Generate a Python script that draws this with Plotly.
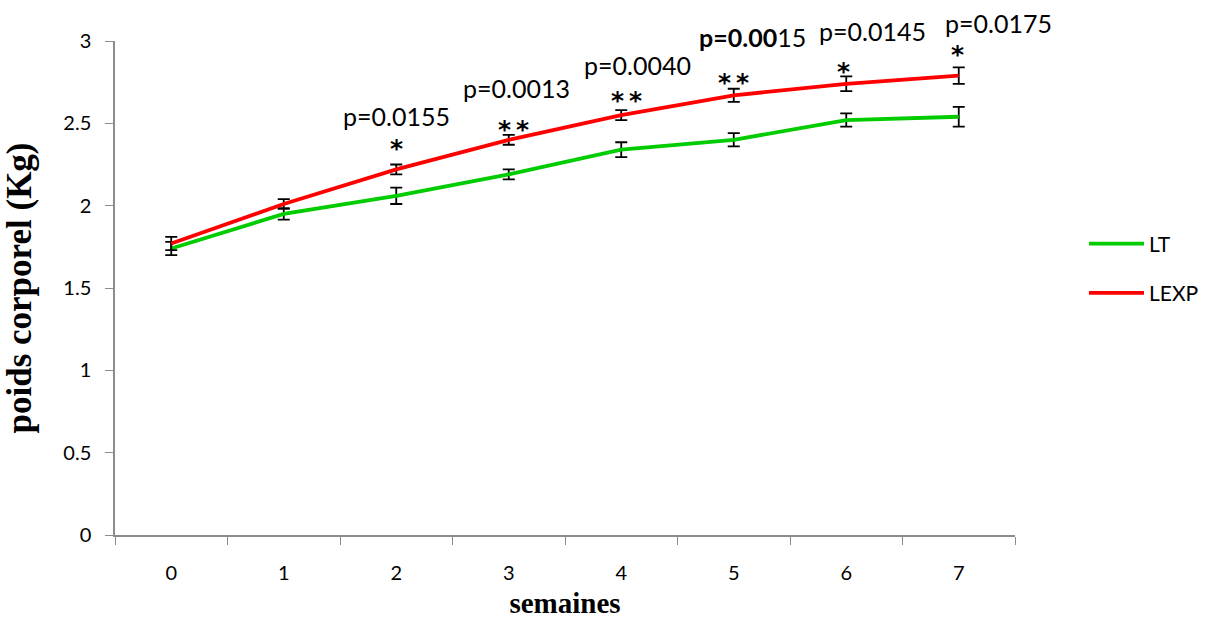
import plotly.graph_objects as go

# Weekly body weight (kg) of the two groups, with error bars
weeks = ["0", "1", "2", "3", "4", "5", "6", "7"]
lt_mean = [1.74, 1.95, 2.06, 2.19, 2.34, 2.40, 2.52, 2.54]
lt_err = [0.04, 0.035, 0.05, 0.03, 0.045, 0.04, 0.04, 0.06]
lexp_mean = [1.77, 2.01, 2.22, 2.40, 2.55, 2.67, 2.74, 2.79]
lexp_err = [0.04, 0.03, 0.03, 0.03, 0.03, 0.04, 0.045, 0.05]

# Significance marks per week (weeks 2..7)
sig_weeks = ["2", "3", "4", "5", "6", "7"]
sig_stars = ["*", "*\u2009*", "*\u2009*", "*\u2009*", "*", "*"]
sig_pvals = ["p=0.0155", "p=0.0013", "p=0.0040", "<b>p=0.00</b>15", "p=0.0145", "p=0.0175"]
# label offsets in pixels relative to the top of each LEXP error bar
star_dx = [0, 5, 5, 0, -3, -1]
star_dy = [24, 13, 18, 14, 13, 21]
pval_dx = [0, 8, 16, 19, 26, 40]
pval_dy = [49, 47, 45, 52, 45, 44]

label_font = "Lato, 'Open Sans', sans-serif"
star_font = "'DejaVu Sans', sans-serif"
serif_font = "'Liberation Serif', 'Times New Roman', serif"

fig = go.Figure()

fig.add_trace(go.Scatter(
    x=weeks, y=lt_mean, name="LT", mode="lines",
    line=dict(color="#00CC00", width=3.8),
    error_y=dict(type="data", array=lt_err, color="black", thickness=1.8, width=6),
    legendgroup="a",
))
fig.add_trace(go.Scatter(
    x=weeks, y=lexp_mean, name="LEXP", mode="lines",
    line=dict(color="#FF0000", width=3.8),
    error_y=dict(type="data", array=lexp_err, color="black", thickness=1.8, width=6),
    legendgroup="b",
))

idx = {w: i for i, w in enumerate(weeks)}
for w, s, p, sdx, sdy, pdx, pdy in zip(sig_weeks, sig_stars, sig_pvals,
                                       star_dx, star_dy, pval_dx, pval_dy):
    top = lexp_mean[idx[w]] + lexp_err[idx[w]]
    fig.add_annotation(
        x=w, y=top, text="<b>" + s + "</b>", showarrow=False,
        xshift=sdx, yshift=sdy - 8, yanchor="middle",
        font=dict(family=star_font, size=25, color="black"),
    )
    fig.add_annotation(
        x=w, y=top, text=p, showarrow=False,
        xshift=pdx, yshift=pdy, yanchor="middle",
        font=dict(family=label_font, size=25, color="black"),
    )

fig.update_layout(
    width=1212, height=619,
    margin=dict(l=115, r=197, t=41, b=84),
    paper_bgcolor="white", plot_bgcolor="white",
    showlegend=True,
    legend=dict(
        xref="container", yref="container",
        x=0.8944, y=0.639, xanchor="left", yanchor="top",
        font=dict(family=label_font, size=21, color="black"),
        tracegroupgap=19, itemwidth=55, traceorder="grouped",
        bgcolor="rgba(0,0,0,0)",
    ),
    xaxis=dict(
        type="category", range=[-0.5, 7.5], tickson="boundaries",
        showline=True, linecolor="#8c8c8c", linewidth=2,
        ticks="outside", ticklen=8, tickcolor="#8c8c8c", tickwidth=1,
        showgrid=False, zeroline=False, automargin=False,
        tickfont=dict(family=label_font, size=20, color="black"),
        ticklabelstandoff=19,
        title=dict(text="<b>semaines</b>", standoff=24,
                   font=dict(family=serif_font, size=29, color="black")),
    ),
    yaxis=dict(
        range=[0, 3], dtick=0.5,
        showline=True, linecolor="#8c8c8c", linewidth=1.5,
        ticks="outside", ticklen=8, tickcolor="#8c8c8c", tickwidth=1,
        showgrid=False, zeroline=False, automargin=False,
        tickfont=dict(family=label_font, size=20, color="black"),
        ticklabelstandoff=10,
        title=dict(text="<b>poids corporel (Kg)</b>", standoff=22,
                   font=dict(family=serif_font, size=35, color="black")),
    ),
)

fig.write_html("out.html")
